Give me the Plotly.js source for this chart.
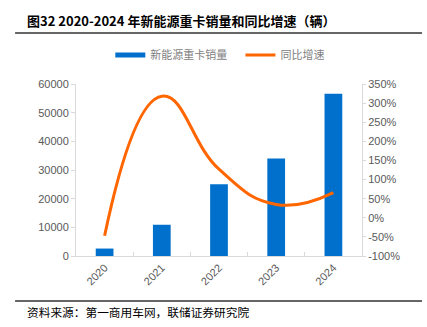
<!DOCTYPE html>
<html><head><meta charset="utf-8">
<script src="https://cdn.plot.ly/plotly-3.0.1.min.js"></script>
<style>html,body{margin:0;padding:0;background:#fff;}#c{width:427px;height:327px;}</style>
</head><body><div id="c"></div>
<script>
const years = ['2020','2021','2022','2023','2024'];
const sales = [2600, 10900, 25000, 34000, 56600];
const growth = [-47, 318, 127, 35, 66];
const leftTicks = [0,10000,20000,30000,40000,50000,60000];
const rightTicks = [-100,-50,0,50,100,150,200,250,300,350];
const seriesNames = ['新能源重卡销量','同比增速'];
const blue = '#0070CC', orange = '#FF6600';
const font = 'Liberation Sans, Arial, Noto Sans CJK SC, sans-serif';
const cjk = 'Noto Sans CJK SC, sans-serif';

const traces = [
  {type:'bar', x:years, y:sales, marker:{color:blue}, width:0.31, showlegend:false, name:seriesNames[0]},
  {type:'scatter', mode:'lines', x:years, y:growth, yaxis:'y2', line:{color:orange, width:3, shape:'spline', smoothing:1.3}, showlegend:false, name:seriesNames[1]},
  {type:'scatter', mode:'lines', x:[null], y:[null], line:{color:blue, width:5}, name:seriesNames[0], legend:'legend'},
  {type:'scatter', mode:'lines', x:[null], y:[null], yaxis:'y2', line:{color:orange, width:3}, name:seriesNames[1], legend:'legend2'}
];
const legendBase = {orientation:'h', xanchor:'left', yanchor:'middle', y:1.169, itemwidth:30,
  font:{family:cjk, size:11, color:'#7f7f7f'}, bgcolor:'rgba(0,0,0,0)'};
const layout = {
  width:427, height:327,
  margin:{l:76, r:65, t:84, b:71},
  paper_bgcolor:'#fff', plot_bgcolor:'#fff',
  font:{family:font, size:11, color:'#595959'},
  showlegend:true,
  legend:Object.assign({}, legendBase, {x:0.12}),
  legend2:Object.assign({}, legendBase, {x:0.575}),
  xaxis:{type:'category', showline:true, linecolor:'#d9d9d9', linewidth:1, ticks:'inside', tickson:'boundaries', ticklen:4, tickcolor:'#d9d9d9',
    tickangle:-45, tickfont:{size:11, color:'#595959'}, showgrid:false, zeroline:false},
  yaxis:{range:[0,60000], tickmode:'array', tickvals:leftTicks, ticktext:leftTicks.map(String), showline:true, linecolor:'#d9d9d9', ticks:'outside', ticklen:4, tickcolor:'#d9d9d9',
    showgrid:false, zeroline:false, tickfont:{size:11, color:'#595959'}},
  yaxis2:{overlaying:'y', side:'right', range:[-100,350], tickmode:'array', tickvals:rightTicks, ticktext:rightTicks.map(v=>v+'%'), showline:true, linecolor:'#d9d9d9',
    ticks:'outside', ticklen:3, tickcolor:'#d9d9d9', showgrid:false, zeroline:false, tickfont:{size:11, color:'#595959'}},
  annotations:[
    {xref:'paper', yref:'paper', x:-0.178, y:1.372, xanchor:'left', yanchor:'middle', showarrow:false,
      text:'<b>图32 2020-2024 年新能源重卡销量和同比增速（辆）</b>', font:{family:cjk, size:13, color:'#000'}},
    {xref:'paper', yref:'paper', x:-0.178, y:-0.325, xanchor:'left', yanchor:'middle', showarrow:false,
      text:'资料来源：第一商用车网，联储证券研究院', font:{family:cjk, size:11.7, color:'#000'}}
  ],
  shapes:[
    {type:'line', xref:'paper', yref:'paper', x0:-0.213, x1:1.21, y0:1.2965, y1:1.2965, line:{color:'#333', width:1.5}},
    {type:'line', xref:'paper', yref:'paper', x0:-0.213, x1:1.21, y0:-0.2616, y1:-0.2616, line:{color:'#333', width:1.5}}
  ]
};
Plotly.newPlot('c', traces, layout, {displayModeBar:false, staticPlot:true});
</script></body></html>
